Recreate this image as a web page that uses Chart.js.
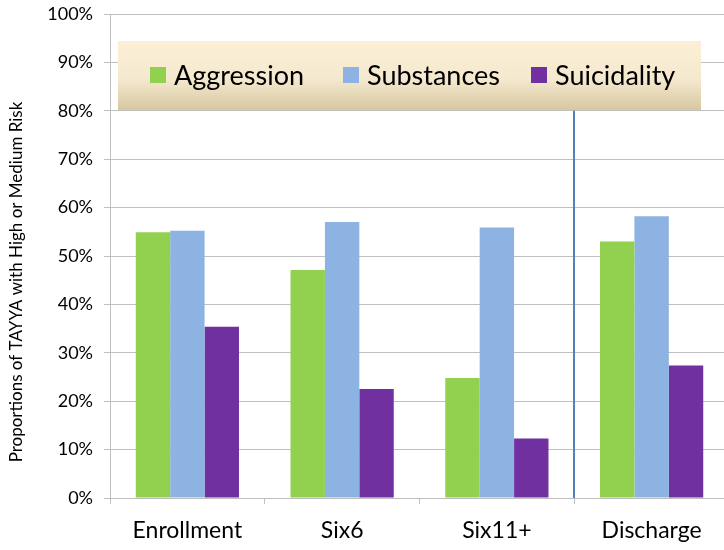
<!DOCTYPE html>
<html>
<head>
<meta charset="utf-8">
<script src="https://cdn.jsdelivr.net/npm/chart.js@4/dist/chart.umd.min.js"></script>
<style>
  html, body { margin: 0; padding: 0; background: #fff; overflow: hidden; }
  #wrap { width: 730px; height: 550px; }
</style>
</head>
<body>
<div id="wrap"><canvas id="risk-chart" width="730" height="550"></canvas></div>
<script>
// Risk proportions by follow-up point
const categories = ['Enrollment', 'Six6', 'Six11+', 'Discharge'];
const aggression = [54.9, 47.1, 24.8, 53.0];
const substances = [55.2, 57.0, 55.9, 58.2];
const suicidality = [35.4, 22.5, 12.3, 27.4];
const yTicks = [0, 10, 20, 30, 40, 50, 60, 70, 80, 90, 100];

const FONT = 'Lato, "Open Sans", sans-serif';

// Legend box sitting inside the plot, with the divider line before Discharge
const decorPlugin = {
    id: 'decor',
    afterDatasetsDraw(chart) {
        const ctx = chart.ctx;
        const x = chart.scales.x;
        const y = chart.scales.y;

        // divider between follow-up and discharge
        const lineX = Math.round(x.getPixelForValue(2.5));
        ctx.save();
        ctx.strokeStyle = '#4F81BD';
        ctx.lineWidth = 2;
        ctx.beginPath();
        ctx.moveTo(lineX, y.getPixelForValue(80));
        ctx.lineTo(lineX, y.getPixelForValue(0));
        ctx.stroke();

        // legend panel
        const bx = 118, by = 41, bw = 583, bh = 69;
        const grad = ctx.createLinearGradient(0, by, 0, by + bh);
        grad.addColorStop(0, '#FCEFD6');
        grad.addColorStop(0.55, '#F4E9CF');
        grad.addColorStop(1, '#D8C7A0');
        ctx.fillStyle = grad;
        ctx.fillRect(bx, by, bw, bh);

        ctx.font = '27px ' + FONT;
        ctx.textBaseline = 'middle';
        const items = chart.data.datasets;
        const starts = [150, 343, 531];
        items.forEach((ds, i) => {
            ctx.fillStyle = ds.backgroundColor;
            ctx.fillRect(starts[i], 67, 16, 16);
            ctx.fillStyle = '#000';
            ctx.fillText(ds.label, starts[i] + 24, 76);
        });

        // axis title
        ctx.translate(17, 282);
        ctx.rotate(-Math.PI / 2);
        ctx.textAlign = 'center';
        ctx.font = '17px ' + FONT;
        ctx.fillStyle = '#000';
        ctx.fillText('Proportions of TAYYA with High or Medium Risk', 0, 0);
        ctx.restore();
    }
};

const chart = new Chart(document.getElementById('risk-chart'), {
    type: 'bar',
    data: {
        labels: categories,
        datasets: [
            { label: 'Aggression', data: aggression, backgroundColor: '#92D050' },
            { label: 'Substances', data: substances, backgroundColor: '#8DB3E2' },
            { label: 'Suicidality', data: suicidality, backgroundColor: '#7030A0' }
        ]
    },
    options: {
        responsive: false,
        animation: false,
        layout: { padding: { top: 14, right: 1, left: 0, bottom: 0 } },
        datasets: {
            bar: { categoryPercentage: 0.667, barPercentage: 1.0, borderWidth: 0 }
        },
        plugins: {
            legend: { display: false },
            tooltip: { enabled: false }
        },
        scales: {
            x: {
                grid: {
                    drawOnChartArea: false,
                    color: '#BFBFBF',
                    tickLength: 6
                },
                border: { color: '#BFBFBF' },
                ticks: {
                    color: '#000',
                    font: { family: FONT, size: 23 },
                    padding: 13
                },
                afterFit(scale) { scale.height = 52; }
            },
            y: {
                min: 0,
                max: 100,
                afterBuildTicks(scale) {
                    scale.ticks = yTicks.map(v => ({ value: v }));
                },
                grid: { color: '#BFBFBF', tickLength: 6 },
                border: { color: '#BFBFBF' },
                ticks: {
                    color: '#000',
                    font: { family: FONT, size: 18 },
                    padding: 11,
                    callback: v => v + '%'
                },
                afterFit(scale) {
                    scale.width = 110;
                    scale.paddingTop = 0;
                    scale.paddingBottom = 0;
                }
            }
        }
    },
    plugins: [decorPlugin]
});
</script>
</body>
</html>
